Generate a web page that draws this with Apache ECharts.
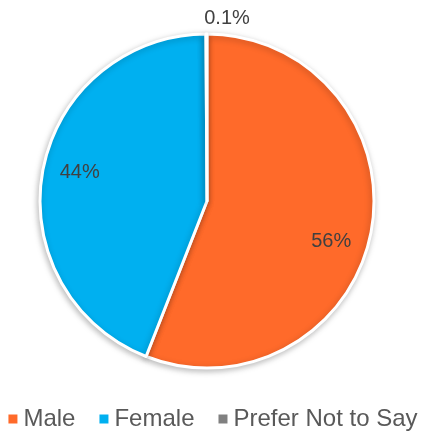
<!DOCTYPE html>
<html><head><meta charset="utf-8">
<script src="https://cdn.jsdelivr.net/npm/echarts@6/dist/echarts.min.js"></script>
<style>html,body{margin:0;padding:0;background:#fff}#c{width:424px;height:432px}</style>
</head><body><div id="c"></div>
<script>
const categories = ["Male", "Female", "Prefer Not to Say"];
const values = [56, 44, 0.1];
const labels = ["56%", "44%", "0.1%"];
const colors = ["#FF6A2A", "#00B0F0", "#808080"];

const chart = echarts.init(document.getElementById('c'), null, {renderer: 'canvas'});
const data = categories.map((n, i) => ({name: n, value: values[i], itemStyle: {color: colors[i]}}));
const labelOffsets = [[-7, 16], [4, -4]];
const labelData = categories.map((n, i) => ({
  name: n, value: values[i],
  label: i === 2 ? {position: 'center', offset: [20, -183]} : {offset: labelOffsets[i]}
}));
chart.setOption({
  animation: false,
  legend: {
    bottom: -4, left: 'center', icon: 'rect', itemWidth: 11, itemHeight: 11, itemGap: 22,
    textStyle: {fontSize: 24, color: '#595959', fontFamily: 'Liberation Sans'},
    data: categories
  },
  series: [{
    type: 'pie', center: [207, 201], radius: [0, 167], startAngle: 90, clockwise: true,
    label: {show: false}, labelLine: {show: false},
    itemStyle: {borderColor: '#fff', borderWidth: 3, shadowBlur: 6, shadowOffsetX: -1, shadowOffsetY: 2, shadowColor: 'rgba(0,0,0,0.25)'},
    data: data
  }, {
    type: 'pie', center: [207, 201], radius: [94, 167], startAngle: 90, clockwise: true,
    silent: true, legendHoverLink: false,
    itemStyle: {color: 'rgba(0,0,0,0)'},
    label: {show: true, position: 'inside', fontSize: 20, color: '#404040', fontFamily: 'Liberation Sans',
      formatter: p => labels[p.dataIndex]},
    labelLine: {show: false},
    data: labelData
  }]
});
</script></body></html>
